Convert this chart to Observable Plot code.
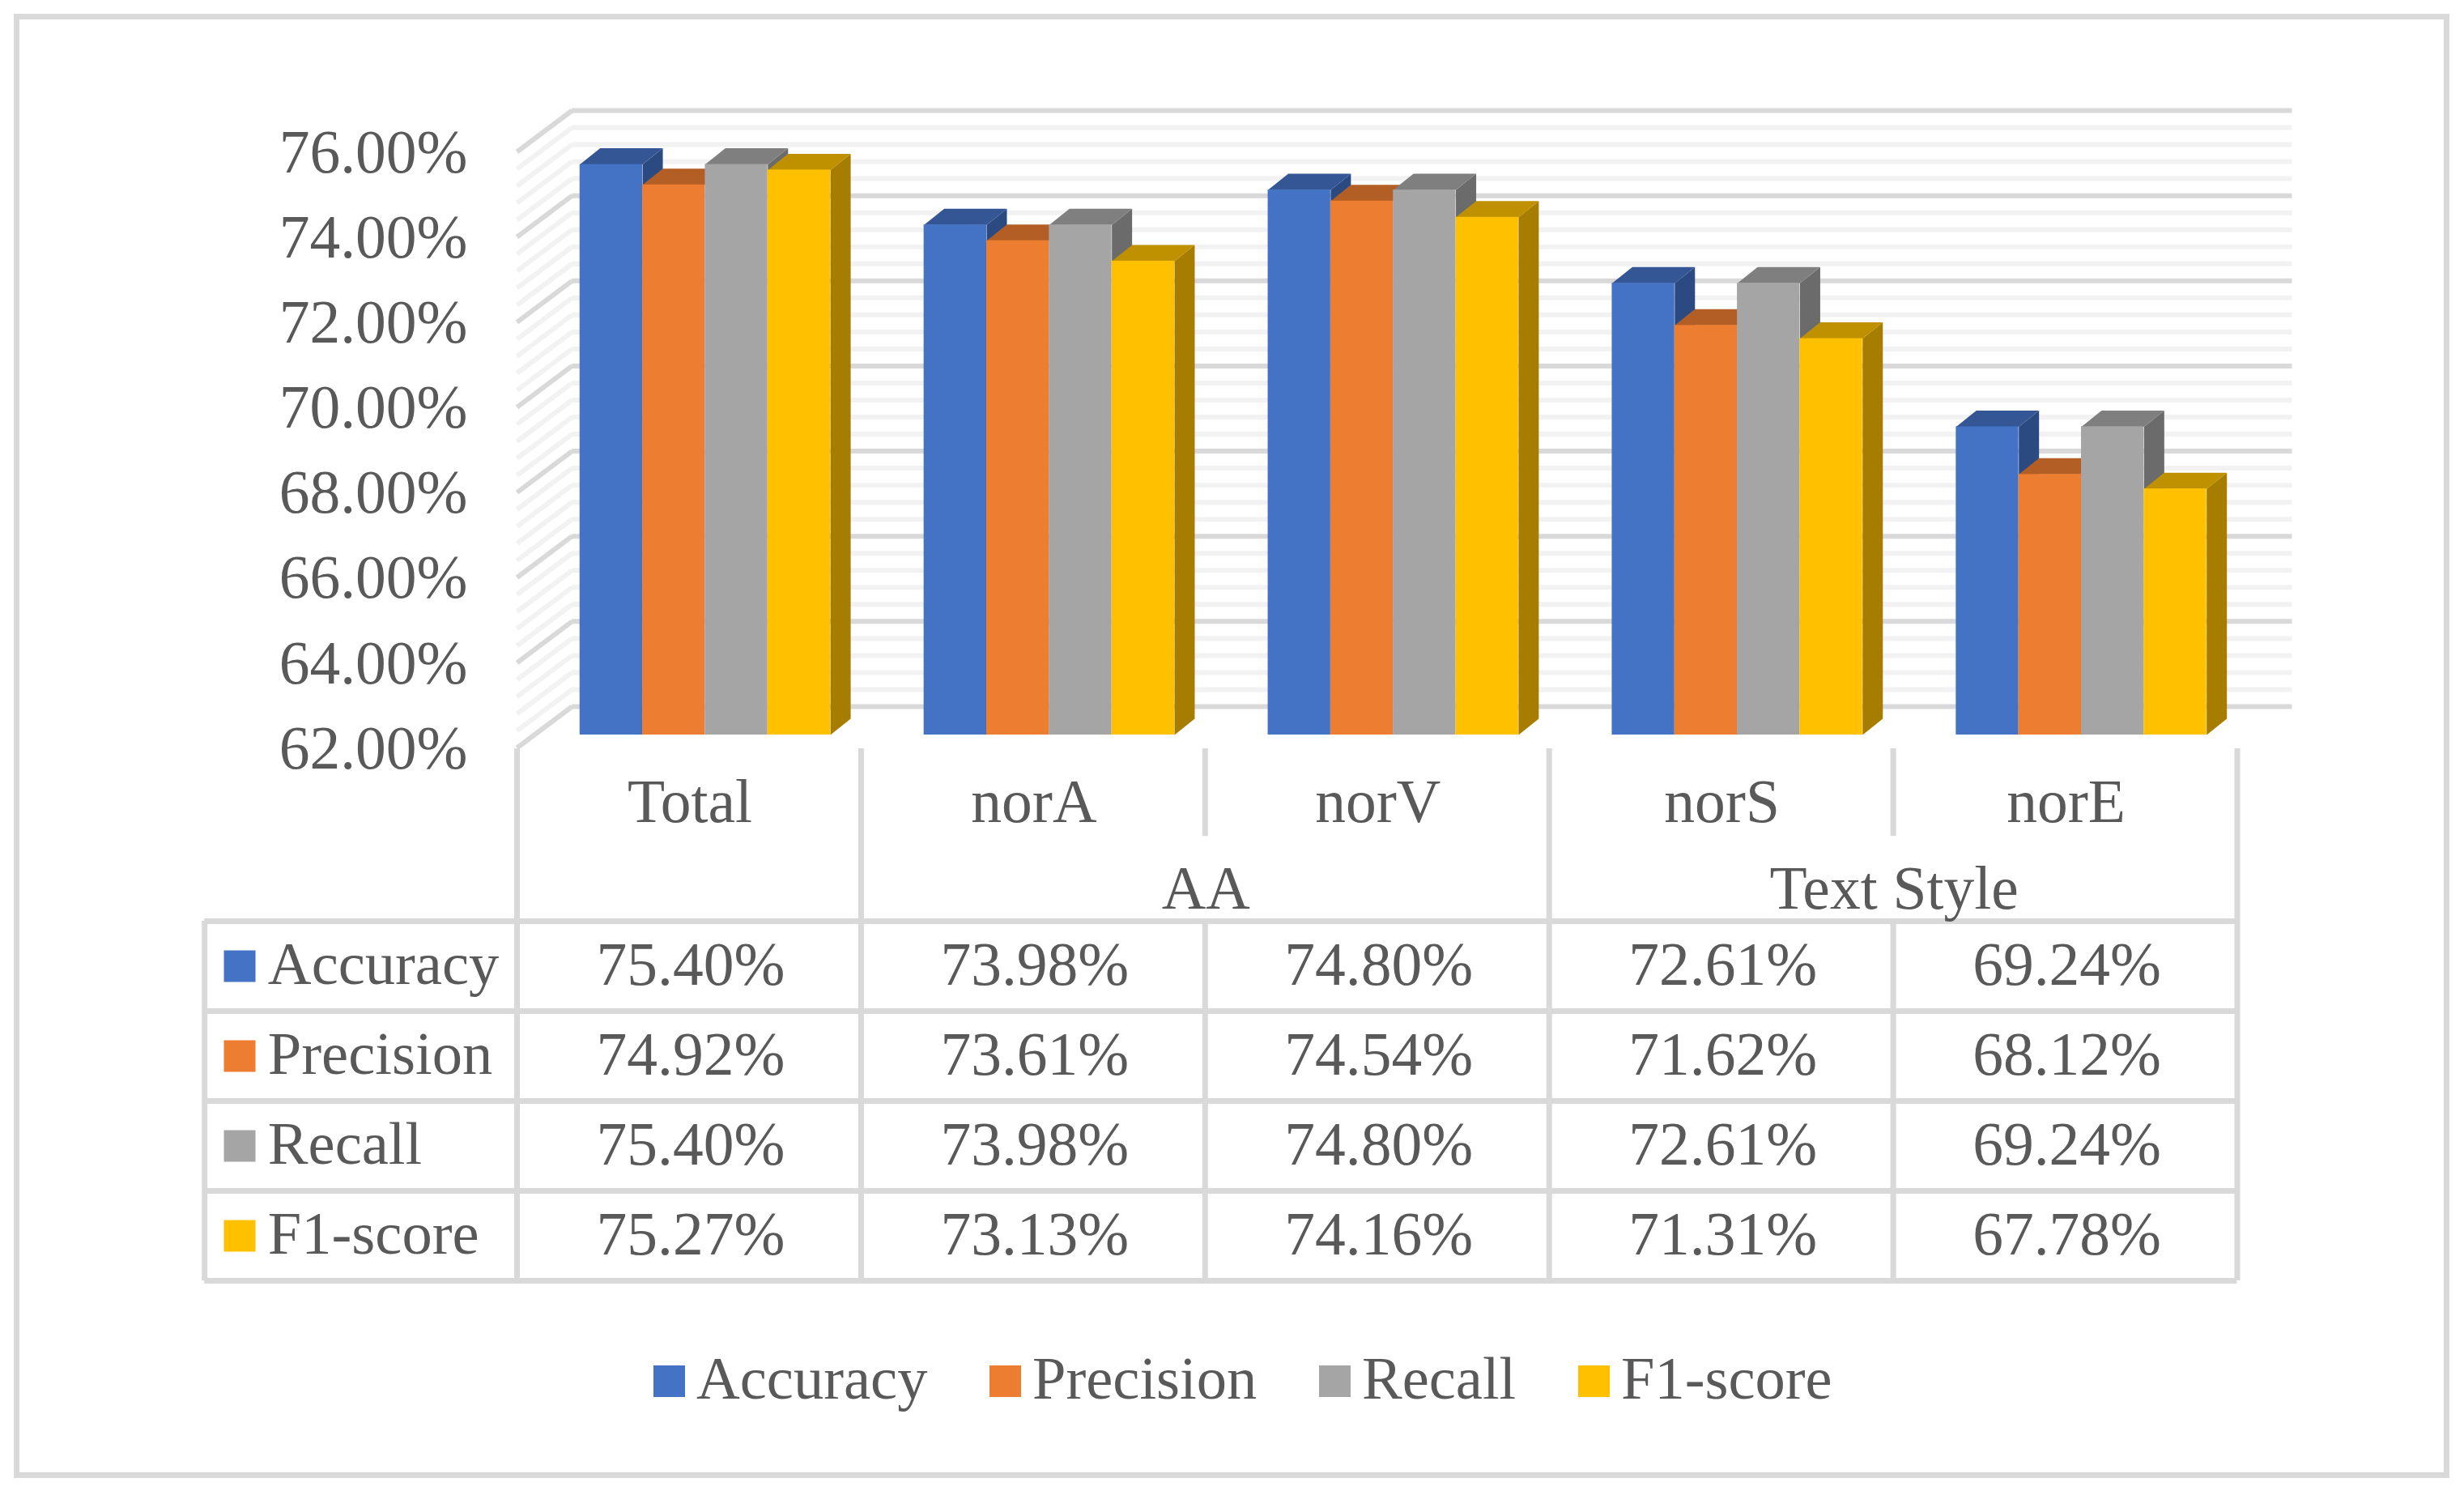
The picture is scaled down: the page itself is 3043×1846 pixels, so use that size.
<!DOCTYPE html>
<html>
<head>
<meta charset="utf-8">
<script src="https://cdn.jsdelivr.net/npm/d3@7"></script>
<script src="https://cdn.jsdelivr.net/npm/@observablehq/plot@0.6"></script>
<style>
  html, body { margin: 0; padding: 0; background: #fff; overflow: hidden; }
  #page { position: relative; width: 3043px; height: 1846px; font-family: "Liberation Serif", serif; color: #595959; }
  #page svg { display: block; max-width: none; background: transparent; }
  #frame { position: absolute; left: 17px; top: 17px; width: 2994px; height: 1794px; border: 7px solid #d9d9d9; pointer-events: none; }
  #legend { position: absolute; left: 0; top: 0; }
  #legend .key { position: absolute; top: 1686px; width: 39px; height: 39px; }
  #legend .lab { position: absolute; top: 1660px; font-size: 74.5px; line-height: 85px; white-space: nowrap; }
</style>
</head>
<body>
<div id="page"><div id="frame"></div><div id="legend"></div></div>
<script>
// ---- data ----
const categories = ["Total", "norA", "norV", "norS", "norE"];
const seriesNames = ["Accuracy", "Precision", "Recall", "F1-score"];
const accuracy  = [75.40, 73.98, 74.80, 72.61, 69.24];
const precision = [74.92, 73.61, 74.54, 71.62, 68.12];
const recall    = [75.40, 73.98, 74.80, 72.61, 69.24];
const f1score   = [75.27, 73.13, 74.16, 71.31, 67.78];
const yTicks = [62, 64, 66, 68, 70, 72, 74, 76];
const groupLabels = [{name: "AA", at: 2}, {name: "Text Style", at: 4}];

// ---- styling ----
const frontColors = ["#4472C4", "#ED7D31", "#A5A5A5", "#FFC000"];
const topColors   = ["#345694", "#B35E24", "#7F7F7F", "#BF9000"];
const sideColors  = ["#2C4A82", "#9A5120", "#6B6B6B", "#A67D00"];
const ink = "#595959", line = "#d9d9d9";
const font = "Liberation Serif, serif";
const fs = 75.5, labelFs = 74.5;
const seriesValues = [accuracy, precision, recall, f1score];

// bars, in scale units
const barStart = 0.183, barW = 0.182, depthX = 0.0588, depthY = 0.38, base = 62;
const wallX = 0.16, wallY = 0.97, minorStep = 0.4;
const minorTicks = d3.range(0, 36).map(i => 62 + i * minorStep).filter(v => !yTicks.includes(Math.round(v * 10) / 10));

const rows = seriesNames.flatMap((name, s) => seriesValues[s].map((v, i) => ({s, i, v, x0: i + barStart + s * barW, x1: i + barStart + (s + 1) * barW})));
const face = (d, pts) => pts.map(([x, y]) => ({x, y, id: d.i}));
const topFace = d => face(d, [[d.x0, d.v], [d.x0 + depthX, d.v + depthY], [d.x1 + depthX, d.v + depthY], [d.x1, d.v]]);
const sideFace = d => face(d, [[d.x1, base], [d.x1 + depthX, base + depthY], [d.x1 + depthX, d.v + depthY], [d.x1, d.v]]);

const barMarks = seriesNames.flatMap((_, s) => {
  const data = rows.filter(d => d.s === s);
  return [
    Plot.line(data.flatMap(sideFace), {x: "x", y: "y", z: "id", fill: sideColors[s], stroke: "none", dy: -16}),
    Plot.line(data.flatMap(topFace), {x: "x", y: "y", z: "id", fill: topColors[s], stroke: "none", dy: -16}),
    Plot.rect(data, {x1: "x0", x2: "x1", y1: () => base, y2: "v", fill: frontColors[s], dy: -16})
  ];
});

const wall = (values, color, width) => [
  Plot.link(values, {x1: () => 0, y1: d => d, x2: () => wallX, y2: d => d + wallY, stroke: color, strokeWidth: width}),
  Plot.ruleY(values, {x1: () => wallX, x2: () => 5 + wallX, y: d => d + wallY, stroke: color, strokeWidth: width})
];

const chart = Plot.plot({
  width: 3043, height: 923,
  marginLeft: 638, marginRight: 280.5, marginTop: 187, marginBottom: 0,
  style: {fontFamily: font, background: "transparent", overflow: "visible"},
  x: {domain: [0, 5], axis: null},
  y: {domain: [62, 76]},
  marks: [
    ...wall(minorTicks, "#f2f2f2", 6),
    ...wall(yTicks, line, 6),
    ...barMarks,
    Plot.axisY({ticks: yTicks, tickFormat: d => d.toFixed(2) + "%", tickSize: 0, tickPadding: 61, fontSize: fs, fill: ink, dy: 1, label: null})
  ]
});

// ---- data table under the plot ----
const headerRow = -1.32, groupRow = -0.36, tableTop = -1.92, partialEnd = -0.945;
const tableLeft = -0.908, labelX = -0.724, keyX = -0.806;
const rowIdx = [0, 1, 2, 3];
const cells = seriesNames.flatMap((_, s) => seriesValues[s].map((v, i) => ({r: s, c: i + 0.5, t: v.toFixed(2) + "%"})));
const table = Plot.plot({
  width: 3043, height: 923,
  marginLeft: 638, marginRight: 280.5, marginTop: 0, marginBottom: 0,
  style: {fontFamily: font, background: "transparent", overflow: "visible"},
  x: {domain: [0, 5], axis: null},
  y: {domain: [tableTop, 4], range: [1, 658], axis: null},
  marks: [
    Plot.ruleY([0, 1, 2, 3, 4], {x1: () => tableLeft, x2: () => 5, y: d => d, stroke: line, strokeWidth: 7}),
    Plot.ruleX([0, 1, 3, 5], {x: d => d, y1: () => tableTop, y2: () => 4, stroke: line, strokeWidth: 7}),
    Plot.ruleX([2, 4], {x: d => d, y1: () => tableTop, y2: () => partialEnd, stroke: line, strokeWidth: 7}),
    Plot.ruleX([2, 4], {x: d => d, y1: () => 0, y2: () => 4, stroke: line, strokeWidth: 7}),
    Plot.ruleX([tableLeft], {x: d => d, y1: () => 0, y2: () => 4, stroke: line, strokeWidth: 7}),
    Plot.text(categories, {x: (d, i) => i + 0.5, y: () => headerRow, text: d => d, fontSize: fs, fill: ink, dx: 1}),
    Plot.text(groupLabels, {x: d => d.at, y: () => groupRow, text: "name", fontSize: fs, fill: ink, dx: 1}),
    Plot.text(cells, {x: "c", y: d => d.r + 0.49, text: "t", fontSize: fs, fill: ink, dx: 2}),
    Plot.text(seriesNames, {x: () => labelX, y: (d, i) => i + 0.48, text: d => d, textAnchor: "start", fontSize: labelFs, fill: ink}),
    Plot.dot(rowIdx, {x: () => keyX, y: d => d + 0.5, symbol: "square", r: 22, fill: d => frontColors[d], stroke: "none"})
  ]
});

const page = document.getElementById("page");
page.insertBefore(table, page.firstChild);
page.insertBefore(chart, table);

// ---- bottom legend ----
const legendKeyX = [807, 1222, 1629, 1949];
const legendTextX = [860, 1275, 1682, 2002];
const legend = document.getElementById("legend");
seriesNames.forEach((name, s) => {
  const k = document.createElement("span");
  k.className = "key"; k.style.left = legendKeyX[s] + "px"; k.style.background = frontColors[s];
  const t = document.createElement("span");
  t.className = "lab"; t.style.left = legendTextX[s] + "px"; t.textContent = name;
  legend.append(k, t);
});
</script>
</body>
</html>
